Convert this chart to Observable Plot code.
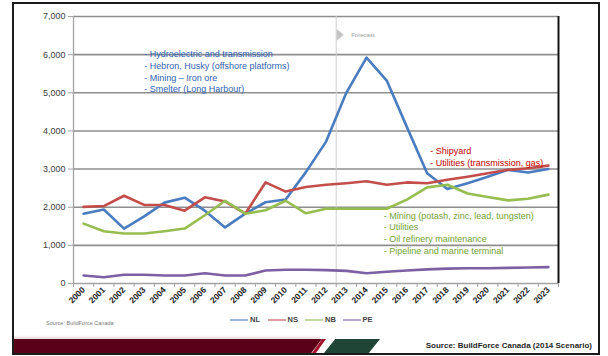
<!DOCTYPE html>
<html>
<head>
<meta charset="utf-8">
<script src="https://cdn.jsdelivr.net/npm/d3@7"></script>
<script src="https://cdn.jsdelivr.net/npm/@observablehq/plot@0.6"></script>
<style>
  html, body { margin: 0; padding: 0; background: #fff; }
  #chart { position: relative; width: 608px; height: 356px; overflow: hidden;
           font-family: "Liberation Sans", Arial, sans-serif; }
  #chart > svg { position: absolute; left: 0; top: 0; }
  .frame { position: absolute; left: 12px; top: 2px; width: 588px; height: 353px;
           box-sizing: border-box; border: 2px solid #1b1b1b; }
  .legend { position: absolute; left: 230px; top: 315px; display: flex; }
  .legend .item { display: flex; align-items: center; width: 37.5px; }
  .legend .swatch { width: 18px; height: 2px; margin-right: 2px; opacity: 0.55; }
  .legend .name { font-size: 7.5px; font-weight: bold; color: #444; }
  .note { position: absolute; left: 46px; top: 320px; font-size: 5.5px; color: #777; }
  .glow { position: absolute; left: 14px; top: 335px; width: 306px; height: 4px;
          background: linear-gradient(to bottom, #ffffff, #ead7db); }
  .band { position: absolute; left: 14px; top: 339px; width: 308px; height: 14px;
          background: #5a0019; clip-path: polygon(0 0, 100% 0, 96.5% 100%, 0 100%); }
  .stripe { position: absolute; left: 312px; top: 339px; width: 14px; height: 14px;
            background: #a5122e; clip-path: polygon(72% 0, 100% 0, 28% 100%, 0 100%); }
  .leaf { position: absolute; left: 324px; top: 339px; width: 56px; height: 14px;
          background: #1e4536; clip-path: polygon(20% 0, 100% 0, 80% 100%, 0 100%); }
  .source { position: absolute; right: 16px; top: 341px; font-size: 8px; font-weight: bold;
            color: #262626; white-space: nowrap; }
</style>
</head>
<body>
<div id="chart"></div>
<script>
// Construction employment requirements by province, history and forecast
const years = [2000, 2001, 2002, 2003, 2004, 2005, 2006, 2007, 2008, 2009, 2010, 2011,
               2012, 2013, 2014, 2015, 2016, 2017, 2018, 2019, 2020, 2021, 2022, 2023];
const seriesNames = ["NL", "NS", "NB", "PE"];
const nlValues = [1830, 1940, 1440, 1760, 2120, 2250, 1910, 1470, 1830, 2130, 2200, 2920,
                  3720, 5000, 5920, 5320, 4100, 2890, 2480, 2630, 2800, 2980, 2910, 3000];
const nsValues = [2010, 2030, 2300, 2060, 2060, 1910, 2260, 2150, 1830, 2650, 2410, 2530,
                  2590, 2630, 2680, 2590, 2650, 2630, 2720, 2800, 2890, 2980, 3020, 3090];
const nbValues = [1570, 1370, 1310, 1310, 1370, 1440, 1790, 2170, 1830, 1920, 2170, 1840,
                  1960, 1960, 1960, 1960, 2200, 2520, 2590, 2360, 2270, 2180, 2220, 2330];
const peValues = [210, 165, 230, 230, 210, 210, 270, 210, 210, 340, 360, 360,
                  350, 330, 270, 310, 340, 370, 390, 400, 400, 410, 420, 430];
const yTicks = [0, 1000, 2000, 3000, 4000, 5000, 6000, 7000];
const forecastStart = 2013;
const forecastLabel = "Forecast";
const nlNotes = ["- Hydroelectric and transmission", "- Hebron, Husky (offshore platforms)",
                 "- Mining – Iron ore", "- Smelter (Long Harbour)"];
const nsNotes = ["- Shipyard", "- Utilities (transmission, gas)"];
const nbNotes = ["- Mining (potash, zinc, lead, tungsten)", "- Utilities",
                 "- Oil refinery maintenance", "- Pipeline and marine terminal"];
const noteText = "Source: BuildForce Canada";
const sourceText = "Source: BuildForce Canada (2014 Scenario)";

const seriesColors = ["#4a7cc0", "#c24d4a", "#95bd50", "#7d5fa3"];
const font = '"Liberation Sans", Arial, sans-serif';

const seriesValues = [nlValues, nsValues, nbValues, peValues];
const table = seriesNames.flatMap((name, k) =>
  seriesValues[k].map((value, i) => ({year: years[i], value, series: name})));
const first = years[0] - 0.5;
const last = years[years.length - 1] + 0.5;
const boundaries = years.map(y => y - 0.5).concat([last]);
const yMax = yTicks[yTicks.length - 1];

// narrow right-pointing triangle for the forecast marker
const pointer = {
  draw(ctx, size) {
    const h = Math.sqrt(size) * 0.95;
    ctx.moveTo(-h * 0.3, -h * 0.5);
    ctx.lineTo(h * 0.3, 0);
    ctx.lineTo(-h * 0.3, h * 0.5);
    ctx.closePath();
  }
};

const note = (lines, x, y, fill) =>
  Plot.text([lines.join("\n")], {
    x, y, text: d => d, fill, fontSize: 9, textAnchor: "start",
    lineAnchor: "top", lineHeight: 1.3, fontFamily: font
  });

const chart = Plot.plot({
  width: 608,
  height: 316,
  marginTop: 16,
  marginRight: 50,
  marginBottom: 33,
  marginLeft: 73,
  style: {fontFamily: font, fontSize: "9px", background: "transparent", color: "#333"},
  x: {type: "linear", domain: [first, last]},
  y: {domain: [0, yMax]},
  color: {domain: seriesNames, range: seriesColors},
  marks: [
    Plot.ruleY(yTicks.filter(d => d > 0), {stroke: "#8e8e8e", strokeWidth: 1.6}),
    Plot.ruleX([forecastStart - 0.5], {y1: 0, y2: yMax, stroke: "#d0d0d0", strokeWidth: 1}),
    Plot.ruleX([first], {y1: 0, y2: yMax, stroke: "#a3a3a3", strokeWidth: 1.3}),
    Plot.ruleY([0], {stroke: "#a3a3a3", strokeWidth: 1.3}),
    Plot.axisY({ticks: yTicks, tickFormat: d3.format(","), tickSize: 5, tickPadding: 3,
                stroke: "#a3a3a3", fill: "#3c3c3c", label: null, fontSize: 9}),
    Plot.axisX({ticks: boundaries, tickSize: 4, tickFormat: () => "", stroke: "#a3a3a3", label: null}),
    Plot.axisX({ticks: years, tickSize: 0, tickPadding: 5, tickRotate: -45,
                tickFormat: d => String(d), fill: "#222", label: null, fontSize: 8.5, fontWeight: "bold"}),
    Plot.line(table, {x: "year", y: "value", z: "series", stroke: "series", strokeWidth: 2.6}),
    Plot.ruleX([last], {y1: 0, y2: yMax, stroke: "#151515", strokeWidth: 2}),
    Plot.dot([forecastStart - 0.5], {x: d => d, y: 6520, symbol: pointer, r: 7, fill: "#c4c4c4", dx: 4}),
    Plot.text([forecastLabel], {x: forecastStart - 0.5, y: 6520, text: d => d, dx: 15,
                                textAnchor: "start", fontSize: 6, fill: "#9a9a9a"}),
    note(nlNotes, 2003, 6150, "#2f62b3"),
    note(nsNotes, 2017.15, 3600, "#c00000"),
    note(nbNotes, 2014.85, 1920, "#72a236")
  ]
});

const root = d3.select("#chart");
root.node().appendChild(chart);

// legend beneath the axis labels
const legend = root.append("div").attr("class", "legend");
seriesNames.forEach((name, k) => {
  const item = legend.append("div").attr("class", "item");
  item.append("div").attr("class", "swatch").style("background", seriesColors[k]);
  item.append("div").attr("class", "name").text(name);
});

root.append("div").attr("class", "note").text(noteText);
root.append("div").attr("class", "glow");
root.append("div").attr("class", "band");
root.append("div").attr("class", "stripe");
root.append("div").attr("class", "leaf");
root.append("div").attr("class", "source").text(sourceText);
root.append("div").attr("class", "frame");
</script>
</body>
</html>
